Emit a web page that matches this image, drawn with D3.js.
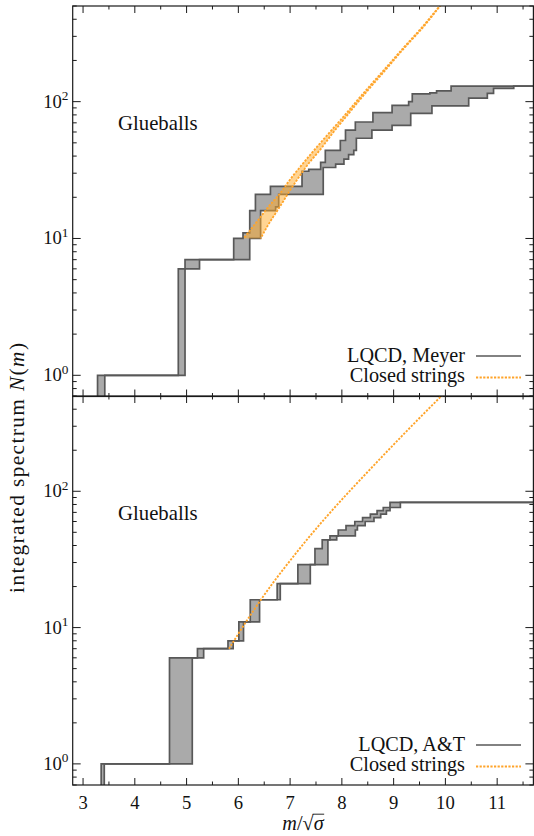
<!DOCTYPE html>
<html>
<head>
<meta charset="utf-8">
<script src="https://cdn.jsdelivr.net/npm/d3@7"></script>
<style>
  body { margin: 0; background: #fff; }
  svg { display: block; }
</style>
</head>
<body>
<svg id="chart" width="534" height="836"></svg>
<script>
// ---- data -------------------------------------------------------------
const xTickValues = [3, 4, 5, 6, 7, 8, 9, 10, 11];
const xMinorValues = [3.5, 4.5, 5.5, 6.5, 7.5, 8.5, 9.5, 10.5, 11.5];
const yTickExponents = [0, 1, 2];

// Integrated glueball spectrum, LQCD (Meyer): steps [mass, N]
// early-edge (lower masses) and late-edge (higher masses) estimates
const meyerEarly = [[3.28,1],[4.84,6],[4.97,7],[5.91,10],[6.09,11],[6.22,16],[6.33,21],[6.62,24],
  [7.23,31],[7.36,32],[7.59,36],[7.68,44],[7.97,52],[8.07,62],[8.26,71],[8.60,83],[8.97,94],
  [9.29,100],[9.36,114],[9.70,116],[9.83,120],[10.11,130]];
const meyerLate = [[3.42,1],[4.97,6],[5.25,7],[6.22,10],[6.43,16],[6.72,17],[6.78,21],[7.64,33],
  [7.88,35],[8.04,38],[8.13,41],[8.23,44],[8.28,54],[8.58,62],[8.97,67],[9.33,82],[9.74,93],
  [10.45,106],[10.81,115],[10.93,125],[11.32,130]];

// Integrated glueball spectrum, LQCD (A&T)
const atEarly = [[3.35,1],[4.67,6],[5.21,7],[5.80,8],[6.01,11],[6.23,16],[6.75,21],[7.15,29],
  [7.48,38],[7.62,44],[7.77,47],[7.93,52],[8.08,56],[8.25,60],[8.40,64],[8.55,68],[8.68,72],
  [8.80,76],[8.93,83]];
const atLate = [[3.41,1],[5.11,6],[5.33,7],[5.90,8],[6.10,11],[6.41,16],[6.81,21],[7.39,29],
  [7.73,44],[7.90,47],[8.26,52],[8.30,56],[8.45,60],[8.62,64],[8.75,68],[8.86,72],[8.93,76],
  [9.13,83]];

// Closed-string spectrum (upper panel): count levels and the mass at which each edge reaches them
const stringCountsMeyer = [10, 13, 17, 21, 27, 35, 44, 60, 80, 110, 170, 250, 350, 500, 560];
const stringMassEarly   = [6.10, 6.34, 6.58, 6.79, 7.00, 7.24, 7.46, 7.77, 8.06, 8.37, 8.81, 9.20, 9.55, 9.89, 10.00];
const stringMassLate    = [6.43, 6.60, 6.80, 6.95, 7.14, 7.35, 7.57, 7.84, 8.11, 8.41, 8.84, 9.22, 9.57, 9.90, 10.01];

// Closed-string spectrum (lower panel)
const stringCountsAT = [7, 11.8, 19.6, 31, 53, 87, 139, 220, 345, 486, 560];
const stringMassAT   = [5.82, 6.2, 6.6, 7.0, 7.5, 8.0, 8.5, 9.0, 9.5, 9.89, 10.05];

const panelLabels = ["Glueballs", "Glueballs"];
const legendLatticeLabels = ["LQCD, Meyer", "LQCD, A&T"];
const legendStringLabel = "Closed strings";

// ---- layout -----------------------------------------------------------
const FONT = "'Liberation Serif', 'Times New Roman', Tinos, 'DejaVu Serif', 'Noto Serif', serif";
const svg = d3.select("#chart").attr("font-family", FONT);
const X0 = 72.7, X1 = 533.4;
const xDomain = [2.8, 11.7];
const x = d3.scaleLinear().domain(xDomain).range([X0, X1]);

const GRAY_FILL = "#aaaaaa", GRAY_LINE = "#585858";
const ORANGE = "#ffa42a", ORANGE_FILL = "rgba(255,170,40,0.5)";
const INK = "#111";

// size factor so the serif face spans about as wide as the typeset labels
const probe = svg.append("text").attr("font-size", 19).attr("font-family", FONT).text(legendLatticeLabels[0]);
const fontScale = Math.max(0.9, Math.min(1.25, 118 / probe.node().getComputedTextLength()));
probe.remove();
const fs = s => s * fontScale;

function addText(parent, attrs, str) {
  const t = parent.append("text").attr("font-family", FONT).attr("fill", INK);
  Object.entries(attrs).forEach(([k, v]) => t.attr(k, v));
  if (str !== undefined) t.text(str);
  return t;
}

const panels = [
  { top: 6, bottom: 396.5, early: meyerEarly, late: meyerLate,
    band: { counts: stringCountsMeyer, m0: stringMassEarly, m1: stringMassLate },
    label: panelLabels[0], legend: legendLatticeLabels[0], labelY: 129.5, legendY: 361.5 },
  { top: 396, bottom: 785, early: atEarly, late: atLate,
    single: { counts: stringCountsAT, m: stringMassAT },
    label: panelLabels[1], legend: legendLatticeLabels[1], labelY: 519.5, legendY: 750.5 }
];

function stepValue(steps, m) {
  let v = 0;
  for (const [mm, n] of steps) if (mm <= m) v = n;
  return v;
}

panels.forEach((p, i) => {
  const y = d3.scaleLog().domain([0.7, 500]).range([p.bottom, p.top]);
  const yv = n => (n > 0 ? y(n) : p.bottom + 3);
  const g = svg.append("g");

  const clipId = "clip" + i;
  svg.append("clipPath").attr("id", clipId)
    .append("rect").attr("x", X0).attr("y", p.top).attr("width", X1 - X0).attr("height", p.bottom - p.top);
  const plot = g.append("g").attr("clip-path", `url(#${clipId})`);

  // gray band between the two lattice step curves
  const breaks = Array.from(new Set([xDomain[0], ...p.early.map(d => d[0]), ...p.late.map(d => d[0]), xDomain[1]]))
    .sort((a, b) => a - b);
  const bandRows = breaks.map(m => ({ m, lo: stepValue(p.late, m), hi: stepValue(p.early, m) }));
  plot.append("path")
    .attr("d", d3.area().curve(d3.curveStepAfter)
      .x(d => x(d.m)).y0(d => yv(d.lo)).y1(d => yv(d.hi))(bandRows))
    .attr("fill", GRAY_FILL);

  const stepLine = d3.line().curve(d3.curveStepAfter).x(d => x(d[0])).y(d => yv(d[1]));
  [p.early, p.late].forEach(s => {
    const pts = [[xDomain[0], 0], ...s, [xDomain[1], s[s.length - 1][1]]];
    plot.append("path").attr("d", stepLine(pts))
      .attr("fill", "none").attr("stroke", GRAY_LINE).attr("stroke-width", 1.7)
      .attr("stroke-linejoin", "miter");
  });

  // closed strings
  if (p.band) {
    const rows = p.band.counts.map((n, k) => ({ n, a: p.band.m0[k], b: p.band.m1[k] })).reverse();
    plot.append("path")
      .attr("d", d3.area().curve(d3.curveMonotoneY).y(d => y(d.n)).x0(d => x(d.a)).x1(d => x(d.b))(rows))
      .attr("fill", ORANGE_FILL);
    ["a", "b"].forEach(key => {
      plot.append("path")
        .attr("d", d3.line().curve(d3.curveMonotoneY).y(d => y(d.n)).x(d => x(d[key]))(rows))
        .attr("fill", "none").attr("stroke", ORANGE).attr("stroke-width", 1.8)
        .attr("stroke-dasharray", "2.2,1.4");
    });
  }
  if (p.single) {
    const rows = p.single.counts.map((n, k) => ({ n, m: p.single.m[k] })).reverse();
    plot.append("path")
      .attr("d", d3.line().curve(d3.curveMonotoneY).y(d => y(d.n)).x(d => x(d.m))(rows))
      .attr("fill", "none").attr("stroke", ORANGE).attr("stroke-width", 1.9)
      .attr("stroke-dasharray", "2.2,1.4");
  }

  // frame and ticks (all pointing inward)
  const axisColor = "#1a1a1a";
  g.append("rect").attr("x", X0).attr("y", p.top).attr("width", X1 - X0).attr("height", p.bottom - p.top)
    .attr("fill", "none").attr("stroke", axisColor).attr("stroke-width", 1.2);

  const ticks = g.append("g").attr("stroke", axisColor).attr("stroke-width", 1);
  xTickValues.forEach(v => {
    const px = x(v);
    ticks.append("line").attr("x1", px).attr("x2", px).attr("y1", p.bottom).attr("y2", p.bottom - 7);
    ticks.append("line").attr("x1", px).attr("x2", px).attr("y1", p.top).attr("y2", p.top + 7);
  });
  xMinorValues.filter(v => v < xDomain[1]).forEach(v => {
    const px = x(v);
    ticks.append("line").attr("x1", px).attr("x2", px).attr("y1", p.bottom).attr("y2", p.bottom - 3.5);
    ticks.append("line").attr("x1", px).attr("x2", px).attr("y1", p.top).attr("y2", p.top + 3.5);
  });
  yTickExponents.forEach(e => {
    const py = y(Math.pow(10, e));
    ticks.append("line").attr("x1", X0).attr("x2", X0 + 8).attr("y1", py).attr("y2", py);
    ticks.append("line").attr("x1", X1).attr("x2", X1 - 8).attr("y1", py).attr("y2", py);
  });
  const minor = [];
  [-1, 0, 1, 2].forEach(e => d3.range(2, 10).forEach(k => {
    const v = k * Math.pow(10, e);
    if (v >= 0.7 && v <= 500) minor.push(v);
  }));
  minor.forEach(v => {
    const py = y(v);
    ticks.append("line").attr("x1", X0).attr("x2", X0 + 4).attr("y1", py).attr("y2", py);
    ticks.append("line").attr("x1", X1).attr("x2", X1 - 4).attr("y1", py).attr("y2", py);
  });

  // y tick labels 10^n
  yTickExponents.forEach(e => {
    const t = addText(g, { x: 68.5, y: y(Math.pow(10, e)) + 6, "text-anchor": "end", "font-size": fs(17.5) });
    t.append("tspan").text("10");
    t.append("tspan").attr("font-size", fs(12.5)).attr("dy", -7.5).text(String(e));
  });

  // panel label
  addText(g, { x: 118, y: p.labelY, "font-size": fs(19.5) }, p.label);

  // legend
  const lg = g.append("g");
  addText(lg, { x: 465, y: p.legendY, "text-anchor": "end", "font-size": fs(19) }, p.legend);
  lg.append("line").attr("x1", 476).attr("x2", 521).attr("y1", p.legendY - 5.5).attr("y2", p.legendY - 5.5)
    .attr("stroke", GRAY_LINE).attr("stroke-width", 1.7);
  addText(lg, { x: 465, y: p.legendY + 20.5, "text-anchor": "end", "font-size": fs(19) }, legendStringLabel);
  lg.append("line").attr("x1", 476).attr("x2", 521).attr("y1", p.legendY + 16).attr("y2", p.legendY + 16)
    .attr("stroke", ORANGE).attr("stroke-width", 1.8).attr("stroke-dasharray", "2.2,1.4");

  // x tick labels on the lower panel only
  if (i === 1) {
    xTickValues.forEach(v => {
      addText(g, { x: x(v), y: 809, "text-anchor": "middle", "font-size": fs(17.5) }, String(v));
    });
  }
});

// x axis title: m / sqrt(sigma)
const xt = addText(svg, { x: 303, y: 830, "text-anchor": "middle", "font-size": fs(19) });
xt.append("tspan").attr("font-style", "italic").text("m");
xt.append("tspan").text("/√");
xt.append("tspan").attr("font-style", "italic").text("σ");
{
  const node = xt.node();
  const box = node.getExtentOfChar(3);
  const root = node.getExtentOfChar(2);
  svg.append("line")
    .attr("x1", root.x + root.width - 1).attr("x2", box.x + box.width + 0.5)
    .attr("y1", root.y + 2.2).attr("y2", root.y + 2.2)
    .attr("stroke", INK).attr("stroke-width", 0.9);
}

// y axis title
const yt = addText(svg, { transform: "translate(24,468) rotate(-90)", "text-anchor": "middle",
  "font-size": fs(20), textLength: 250, lengthAdjust: "spacing" });
yt.append("tspan").text("integrated spectrum ");
yt.append("tspan").attr("font-style", "italic").text("N");
yt.append("tspan").text("(");
yt.append("tspan").attr("font-style", "italic").text("m");
yt.append("tspan").text(")");
</script>
</body>
</html>
